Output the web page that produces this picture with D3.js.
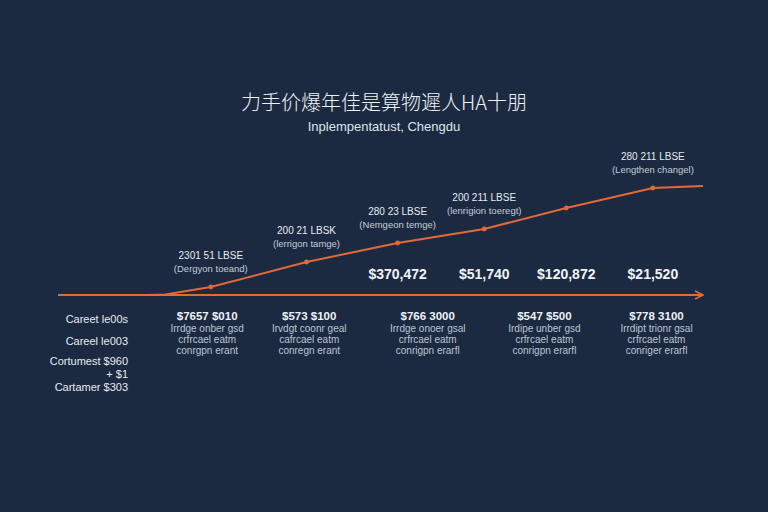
<!DOCTYPE html>
<html>
<head>
<meta charset="utf-8">
<script src="https://cdn.jsdelivr.net/npm/d3@7"></script>
<style>
  html, body { margin: 0; padding: 0; background: #1b2a41; }
  text { font-family: "Liberation Sans", Arial, sans-serif; }
</style>
</head>
<body>
<div id="chart"></div>
<script>
// data
var stageX = [0, 2, 7, 17.5, 27.5, 37, 46, 55.5, 61];
var stageY = [0, 0.5, 8, 33, 52, 66, 87, 107, 109];
var dotIdx = [2, 3, 4, 5, 6, 7];

var noteIdx = [2, 3, 4, 5, 7];
var noteTop = ["2301 51 LBSE", "200 21 LBSK", "280 23 LBSE", "200 211 LBSE", "280 211 LBSE"];
var noteSub = ["(Dergyon toeand)", "(lerrigon tamge)", "(Nemgeon temge)", "(lenrigion toeregt)", "(Lengthen changel)"];

var valueIdx = [4, 5, 6, 7];
var valueLabels = ["$370,472", "$51,740", "$120,872", "$21,520"];

var colX = [6.6, 17.8, 30.8, 43.6, 55.9];
var colHead = ["$7657 $010", "$573 $100", "$766 3000", "$547 $500", "$778 3100"];
var colLine1 = ["Irrdge onber gsd", "Irvdgt coonr geal", "Irrdge onoer gsal", "Irdipe unber gsd", "Irrdipt trionr gsal"];
var colLine2 = ["crfrcael eatm", "cafrcael eatm", "crfrcael eatm", "crfrcael eatm", "crfrcael eatm"];
var colLine3 = ["conrgpn erant", "conregn erant", "conrigpn erarfl", "conrigpn erarfl", "conriger erarfl"];

var rowLabels = ["Careet le00s", "Careel le003", "Cortumest $960", "+ $1", "Cartamer $303"];
var rowY = [319, 341, 361, 374, 387];

var title = "力手价爆年佳是算物遲人HA十朋";
var subtitle = "Inplempentatust, Chengdu";

var W = 768, H = 512;
var orange = "#e2693a";

var svg = d3.select("#chart").append("svg")
  .attr("width", W).attr("height", H);

svg.append("rect").attr("width", W).attr("height", H).attr("fill", "#1b2a41");

var x = d3.scaleLinear().domain([0, 61]).range([147, 703]);
var y = d3.scaleLinear().domain([0, 110]).range([295, 185]);

// title
svg.append("text")
  .attr("x", 384).attr("y", 110)
  .attr("text-anchor", "middle")
  .attr("fill", "#eef1f5")
  .style("font-family", "'Noto Sans CJK SC', sans-serif")
  .style("font-size", "20px")
  .style("font-weight", "300")
  .text(title);

svg.append("text")
  .attr("x", 384).attr("y", 131)
  .attr("text-anchor", "middle")
  .attr("fill", "#dfe4ea")
  .style("font-size", "13px")
  .text(subtitle);

// baseline arrow
var defs = svg.append("defs");
defs.append("marker")
  .attr("id", "arrow")
  .attr("viewBox", "0 0 10 10")
  .attr("refX", 9).attr("refY", 5)
  .attr("markerWidth", 5).attr("markerHeight", 5)
  .attr("orient", "auto")
  .append("path")
  .attr("d", "M1,1 L9,5 L1,9")
  .attr("fill", "none")
  .attr("stroke", orange)
  .attr("stroke-width", 1.8);

svg.append("line")
  .attr("x1", 58).attr("x2", x(61))
  .attr("y1", y(0)).attr("y2", y(0))
  .attr("stroke", orange)
  .attr("stroke-width", 2)
  .attr("marker-end", "url(#arrow)");

// line
var pts = stageX.map(function (d, i) { return [d, stageY[i]]; });
var line = d3.line()
  .x(function (d) { return x(d[0]); })
  .y(function (d) { return y(d[1]); });

svg.append("path")
  .datum(pts)
  .attr("d", line)
  .attr("fill", "none")
  .attr("stroke", orange)
  .attr("stroke-width", 2);

svg.selectAll(".dot")
  .data(dotIdx)
  .enter().append("circle")
  .attr("cx", function (i) { return x(stageX[i]); })
  .attr("cy", function (i) { return y(stageY[i]); })
  .attr("r", 2.4)
  .attr("fill", orange);

// notes above points
var notes = svg.selectAll(".note")
  .data(noteIdx)
  .enter().append("g")
  .attr("transform", function (i) {
    return "translate(" + x(stageX[i]) + "," + y(stageY[i]) + ")";
  });

notes.append("text")
  .attr("y", -28)
  .attr("text-anchor", "middle")
  .attr("fill", "#e6eaf0")
  .style("font-size", "10px")
  .text(function (d, i) { return noteTop[i]; });

notes.append("text")
  .attr("y", -15)
  .attr("text-anchor", "middle")
  .attr("fill", "#c4ccd8")
  .style("font-size", "9.5px")
  .text(function (d, i) { return noteSub[i]; });

// value labels
svg.selectAll(".val")
  .data(valueIdx)
  .enter().append("text")
  .attr("x", function (i) { return x(stageX[i]); })
  .attr("y", 279)
  .attr("text-anchor", "middle")
  .attr("fill", "#f2f4f7")
  .style("font-size", "14px")
  .style("font-weight", "bold")
  .text(function (d, i) { return valueLabels[i]; });

// columns below baseline
var cols = svg.selectAll(".col")
  .data(colX)
  .enter().append("g")
  .attr("transform", function (d) { return "translate(" + x(d) + ",0)"; });

cols.append("text")
  .attr("y", 320)
  .attr("text-anchor", "middle")
  .attr("fill", "#eef1f5")
  .style("font-size", "11.5px")
  .style("font-weight", "bold")
  .text(function (d, i) { return colHead[i]; });

[colLine1, colLine2, colLine3].forEach(function (arr, k) {
  cols.append("text")
    .attr("y", 332 + k * 11)
    .attr("text-anchor", "middle")
    .attr("fill", "#bcc5d2")
    .style("font-size", "10px")
    .text(function (d, i) { return arr[i]; });
});

// row labels at left
svg.selectAll(".row")
  .data(rowLabels)
  .enter().append("text")
  .attr("x", 128)
  .attr("y", function (d, i) { return rowY[i] + 4; })
  .attr("text-anchor", "end")
  .attr("fill", "#e6eaf0")
  .style("font-size", "11px")
  .text(function (d) { return d; });
</script>
</body>
</html>
